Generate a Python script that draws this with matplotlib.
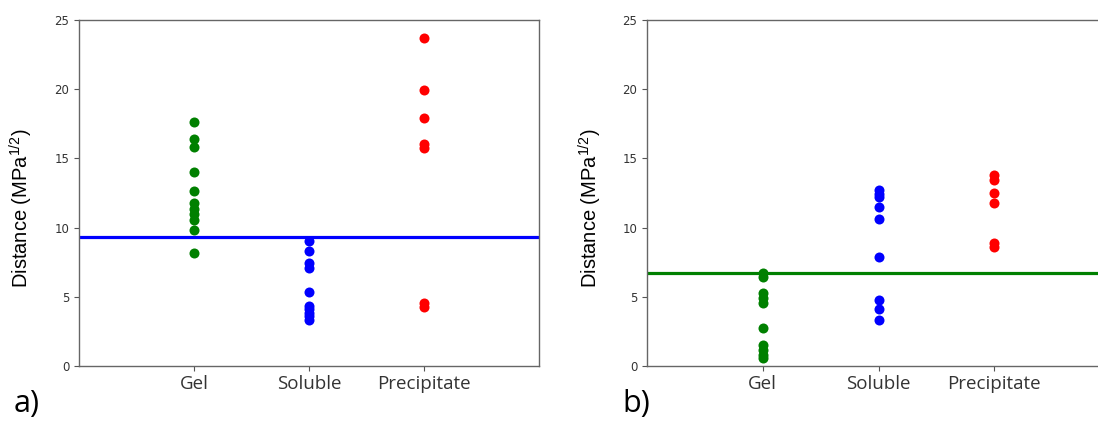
import matplotlib
matplotlib.use("Agg")
import matplotlib.pyplot as plt

plt.rcParams["mathtext.fontset"] = "custom"
plt.rcParams["mathtext.rm"] = "Liberation Sans"
plt.rcParams["mathtext.it"] = "Liberation Sans"

categories = ["Gel", "Soluble", "Precipitate"]
colors = ["green", "blue", "red"]

# panel a) distances per category
a_gel = [17.6, 16.4, 15.8, 14.0, 12.65, 11.8, 11.35, 10.95, 10.55, 9.85, 8.2]
a_soluble = [9.05, 8.3, 7.45, 7.1, 5.35, 4.35, 4.1, 3.85, 3.6, 3.35]
a_precip = [23.7, 19.95, 17.95, 16.05, 15.75, 4.55, 4.25]
a_cutoff = 9.3

# panel b) distances per category
b_gel = [6.7, 6.45, 5.3, 4.9, 4.55, 2.75, 1.5, 1.15, 0.8, 0.55]
b_soluble = [12.7, 12.45, 12.2, 11.5, 10.6, 7.85, 4.8, 4.1, 3.35]
b_precip = [13.8, 13.45, 12.5, 11.8, 8.9, 8.6]
b_cutoff = 6.75

fig = plt.figure(figsize=(10.98, 4.25), dpi=100)
ax1 = fig.add_axes([0.0719, 0.1388, 0.419, 0.814])
ax2 = fig.add_axes([0.5893, 0.1388, 0.4217, 0.814])


def draw_panel(ax, groups, cutoff, cutoff_color, tag, tag_x, label_x):
    for i, vals in enumerate(groups):
        ax.scatter([i] * len(vals), vals, s=52, color=colors[i], zorder=3,
                   linewidths=0)
    ax.axhline(cutoff, color=cutoff_color, lw=2.3, zorder=2)
    ax.set_xlim(-1, 3)
    ax.set_ylim(0, 25)
    ax.set_xticks(range(len(categories)))
    ax.set_xticklabels(categories, fontfamily="Open Sans", fontsize=13.5,
                       color="#333333")
    ax.set_yticks([0, 5, 10, 15, 20, 25])
    ax.tick_params(axis="y", labelsize=8.5, labelcolor="#333333",
                   color="#555555", length=3.5)
    ax.tick_params(axis="x", color="#555555", length=3.5, pad=3)
    for sp in ax.spines.values():
        sp.set_color("#666666")
        sp.set_linewidth(1.0)
    ax.set_ylabel("Distance (MPa$^{1/2}$)", fontfamily="Liberation Sans",
                  fontsize=14.5)
    ax.yaxis.set_label_coords(label_x, 0.457)
    fig.text(tag_x, 0.03, tag, fontfamily="Open Sans", fontsize=22)


draw_panel(ax1, [a_gel, a_soluble, a_precip], a_cutoff, "blue",
           "a)", 0.012, -44 / 460)
draw_panel(ax2, [b_gel, b_soluble, b_precip], b_cutoff, "green",
           "b)", 0.567, -43 / 463)

fig.savefig("out.png", dpi=100)
